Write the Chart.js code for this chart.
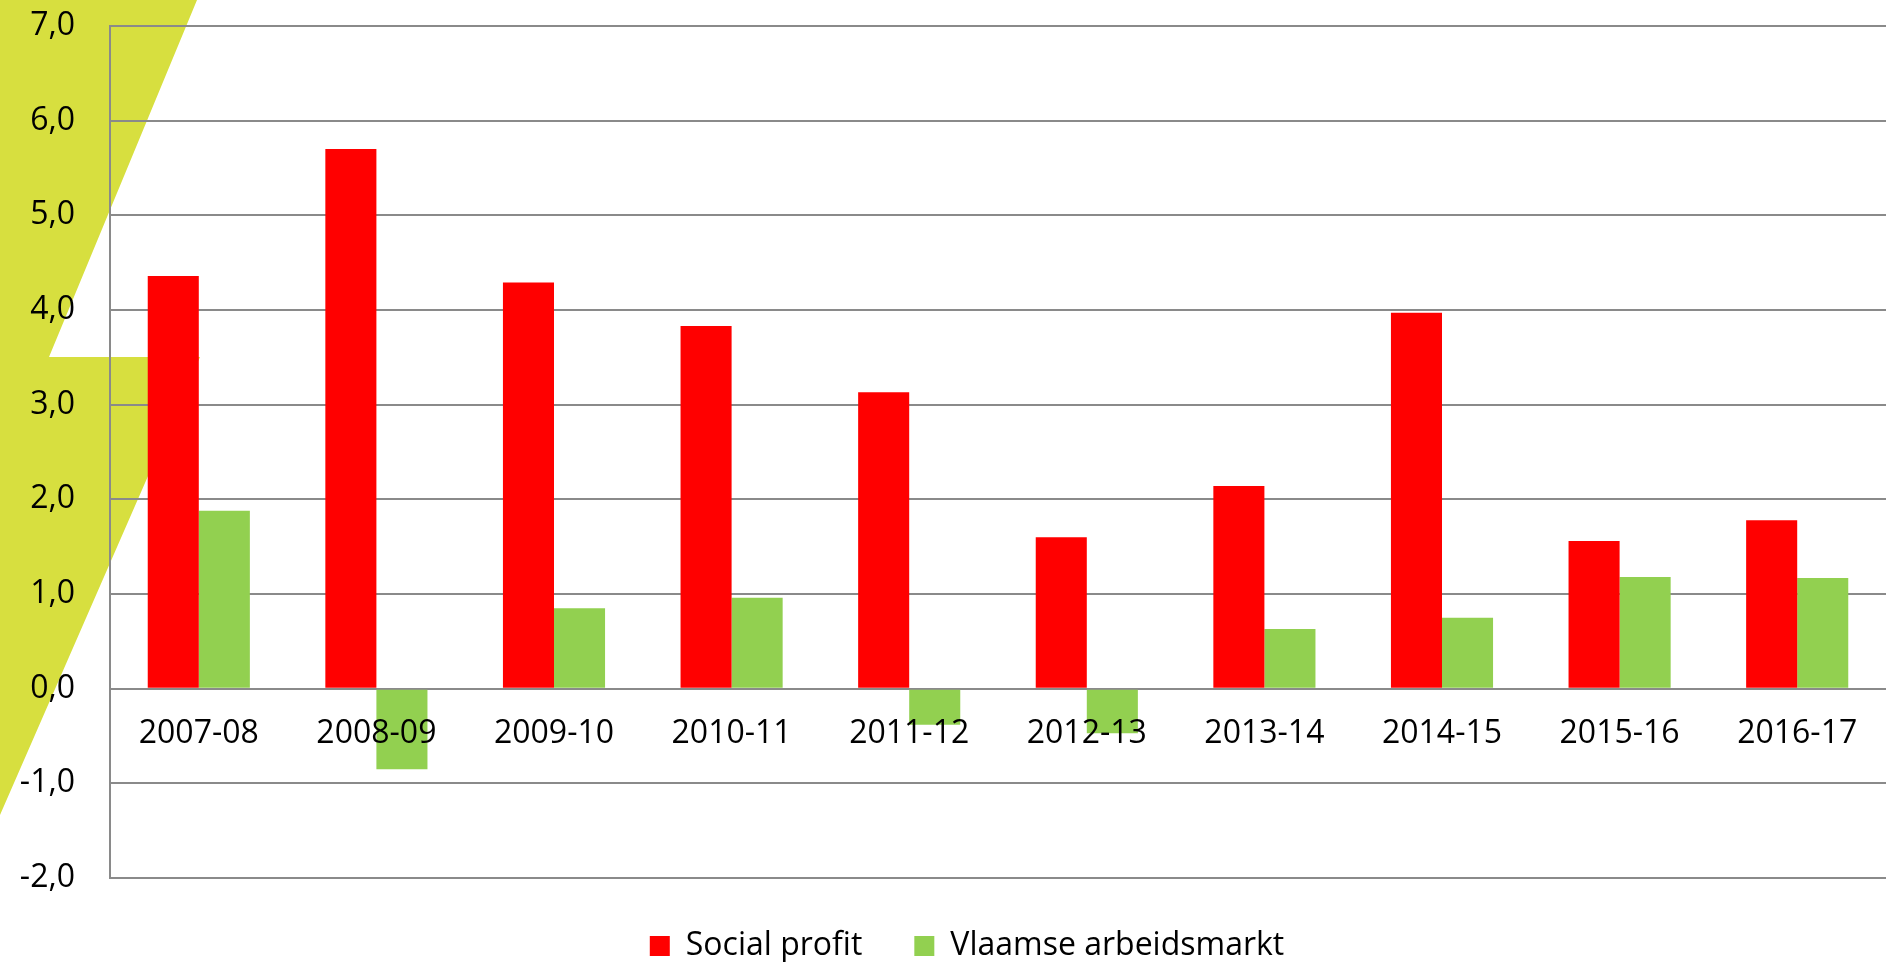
<!DOCTYPE html>
<html>
<head>
<meta charset="utf-8">
<script src="https://cdn.jsdelivr.net/npm/chart.js@4.4.1/dist/chart.umd.min.js"></script>
<style>
  html, body { margin: 0; padding: 0; background: #ffffff; }
  #wrap { width: 1886px; height: 962px; position: relative; }
</style>
</head>
<body>
<div id="wrap"><canvas id="barChart"></canvas></div>
<script>
// data
const years = ["2007-08", "2008-09", "2009-10", "2010-11", "2011-12", "2012-13", "2013-14", "2014-15", "2015-16", "2016-17"];
const socialProfit = [4.36, 5.70, 4.29, 3.83, 3.13, 1.60, 2.14, 3.97, 1.56, 1.78];
const vlaamseArbeidsmarkt = [1.88, -0.85, 0.85, 0.96, -0.38, -0.47, 0.63, 0.75, 1.18, 1.17];
const yMin = -2;
const yMax = 7;

const FONT = "'Open Sans', sans-serif";

// yellow-green backdrop shape in the top left corner
const backdrop = {
  id: "backdrop",
  beforeDraw(chart) {
    const ctx = chart.ctx;
    ctx.save();
    ctx.fillStyle = "#d7df3f";
    ctx.beginPath();
    ctx.moveTo(0, 0);
    ctx.lineTo(197, 0);
    ctx.lineTo(49, 357);
    ctx.lineTo(200, 357);
    ctx.lineTo(0, 815);
    ctx.closePath();
    ctx.fill();
    ctx.restore();
  }
};

// the legend in the original sits a bit right of the canvas centre
const legendShift = {
  id: "legendShift",
  afterLayout(chart) {
    chart.legend.left += 24;
    chart.legend.right += 24;
  }
};

const ctx = document.getElementById("barChart");
new Chart(ctx, {
  type: "bar",
  data: {
    labels: years,
    datasets: [
      {
        label: "Social profit",
        data: socialProfit,
        backgroundColor: "#ff0000",
        borderWidth: 0,
      },
      {
        label: "Vlaamse arbeidsmarkt",
        data: vlaamseArbeidsmarkt,
        backgroundColor: "#92d050",
        borderWidth: 0,
      },
    ],
  },
  options: {
    responsive: true,
    maintainAspectRatio: false,
    animation: false,
    layout: {
      padding: { top: 26, left: 0, right: 0, bottom: -10 },
    },
    datasets: {
      bar: {
        categoryPercentage: 0.575,
        barPercentage: 1,
      },
    },
    scales: {
      x: {
        position: { y: 0 },
        grid: { display: false, drawTicks: false },
        border: { display: false },
        ticks: {
          z: 1, // category labels are written over the negative bars
          color: "#000000",
          padding: 26,
          maxRotation: 0,
          font: { family: FONT, size: 32 },
        },
      },
      y: {
        min: yMin,
        max: yMax,
        afterFit(scale) {
          scale.width = 110;
        },
        grid: {
          color: "#8a8a8a",
          lineWidth: 2,
          drawTicks: true,
          tickLength: 35,
          tickColor: "rgba(0,0,0,0)",
        },
        border: { display: true, color: "#8a8a8a", width: 2 },
        ticks: {
          stepSize: 1,
          color: "#000000",
          padding: 0,
          font: { family: FONT, size: 32 },
          callback: (v) => v.toFixed(1).replace(".", ","),
        },
      },
    },
    plugins: {
      tooltip: { enabled: false },
      legend: {
        position: "bottom",
        labels: {
          color: "#000000",
          boxWidth: 20,
          boxHeight: 20,
          padding: 52,
          font: { family: FONT, size: 32 },
        },
      },
    },
  },
  plugins: [backdrop, legendShift],
});
</script>
</body>
</html>
